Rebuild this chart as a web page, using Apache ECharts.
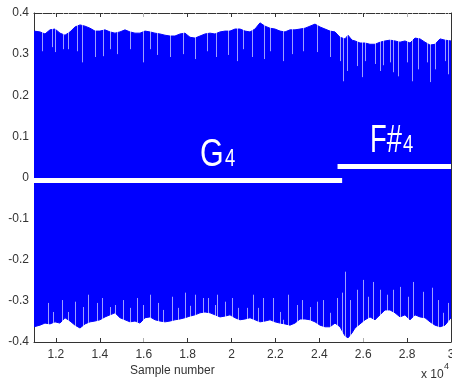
<!DOCTYPE html>
<html><head><meta charset="utf-8">
<script src="https://cdn.jsdelivr.net/npm/echarts@6/dist/echarts.min.js"></script>
<style>html,body{margin:0;padding:0;background:#fff}#c{width:452px;height:383px}</style>
</head><body><div id="c"></div>
<script>
// Envelope sample positions (sample number)
const sampleX = [11000,11273,11501,11729,11957,12185,12412,12640,12868,13096,13324,13552,13779,14007,14235,14463,14691,14918,15146,15374,15602,15830,16058,16285,16513,16741,16969,17197,17424,17652,17880,18108,18336,18564,18791,19019,19247,19475,19703,19930,20158,20386,20614,20842,21070,21297,21525,21753,21981,22209,22436,22664,22892,23120,23348,23576,23803,24031,24259,24487,24715,24942,25170,25307,25489,25626,25854,26082,26309,26537,26765,26993,27221,27448,27676,27904,28132,28360,28588,28815,29043,29271,29499,29727,30000];
const upperEnv = [0.356,0.354,0.349,0.359,0.361,0.351,0.346,0.354,0.366,0.371,0.368,0.363,0.356,0.356,0.359,0.354,0.351,0.354,0.359,0.354,0.351,0.351,0.356,0.354,0.351,0.349,0.346,0.344,0.344,0.349,0.351,0.341,0.339,0.344,0.349,0.351,0.349,0.354,0.356,0.356,0.361,0.361,0.356,0.354,0.361,0.376,0.368,0.363,0.361,0.356,0.354,0.359,0.359,0.361,0.363,0.368,0.373,0.366,0.361,0.356,0.354,0.341,0.337,0.346,0.334,0.332,0.327,0.327,0.324,0.324,0.329,0.332,0.334,0.332,0.329,0.332,0.327,0.339,0.337,0.329,0.322,0.324,0.337,0.334,0.332];
const lowerEnv = [-0.363,-0.359,-0.354,-0.356,-0.351,-0.354,-0.341,-0.349,-0.359,-0.366,-0.356,-0.351,-0.349,-0.346,-0.339,-0.334,-0.329,-0.341,-0.346,-0.351,-0.349,-0.354,-0.341,-0.339,-0.346,-0.349,-0.351,-0.349,-0.346,-0.344,-0.341,-0.337,-0.334,-0.329,-0.327,-0.329,-0.334,-0.339,-0.337,-0.334,-0.341,-0.346,-0.344,-0.341,-0.346,-0.351,-0.349,-0.346,-0.351,-0.354,-0.356,-0.359,-0.354,-0.344,-0.344,-0.346,-0.351,-0.359,-0.363,-0.363,-0.354,-0.363,-0.385,-0.390,-0.378,-0.366,-0.356,-0.346,-0.339,-0.346,-0.334,-0.322,-0.322,-0.329,-0.339,-0.334,-0.346,-0.334,-0.339,-0.341,-0.351,-0.359,-0.363,-0.359,-0.341];

// Individual low peaks inside the waveform
const topSpikeX = [11364,11820,11957,12321,12549,12959,13187,13779,14144,14463,14782,15374,15966,16285,16604,17196,17788,18335,18882,19292,19839,20249,20522,20932,21479,21752,22344,22754,23256,23894,24485,24941,25078,25260,25716,25944,26080,26536,26764,26900,27219,27356,27584,27994,28222,28495,28905,29042,29270,29726,29863];
const topSpikeTip = [0.307,0.317,0.305,0.312,0.312,0.307,0.280,0.293,0.295,0.312,0.300,0.312,0.280,0.312,0.298,0.293,0.300,0.288,0.307,0.293,0.298,0.283,0.312,0.293,0.288,0.307,0.283,0.300,0.307,0.305,0.293,0.283,0.234,0.259,0.271,0.244,0.283,0.276,0.259,0.273,0.280,0.256,0.246,0.280,0.234,0.263,0.280,0.232,0.263,0.283,0.251];
const botSpikeX = [11638,11866,12276,12549,12868,13232,13460,13870,14098,14463,14691,15055,15374,15693,15966,16285,16650,16878,17288,17561,17880,18108,18335,18700,18928,19247,19338,19702,20021,20294,20704,20977,21205,21433,21889,22208,22344,22572,22982,23210,23575,23894,24167,24485,24804,25032,25169,25397,25716,25989,26217,26445,26764,27083,27356,27675,28039,28267,28723,29133,29406,29634,29862];
const botSpikeTip = [-0.305,-0.327,-0.298,-0.327,-0.302,-0.315,-0.285,-0.305,-0.293,-0.315,-0.310,-0.298,-0.317,-0.293,-0.310,-0.285,-0.305,-0.322,-0.290,-0.317,-0.280,-0.312,-0.285,-0.293,-0.293,-0.310,-0.285,-0.302,-0.293,-0.317,-0.317,-0.285,-0.317,-0.293,-0.293,-0.327,-0.346,-0.285,-0.310,-0.298,-0.315,-0.302,-0.298,-0.329,-0.293,-0.280,-0.229,-0.298,-0.273,-0.249,-0.290,-0.254,-0.273,-0.285,-0.273,-0.266,-0.290,-0.254,-0.278,-0.268,-0.298,-0.329,-0.305];

// Note marker lines
const g4Line = [[11000,-0.007],[25040,-0.007]];
const fs4Line = [[24830,0.027],[30000,0.027]];
const noteMain = ['G','F#'];
const noteSub = ['4','4'];
const noteAnchor = [[18563,0.027],[26308,0.061]];

const xTicks = [12000,14000,16000,18000,20000,22000,24000,26000,28000,30000];
const yMin = -0.4, yMax = 0.4, yStep = 0.1;

const chart = echarts.init(document.getElementById('c'));
const axisCol = '#333';
const fontFam = 'Liberation Sans, Arial, sans-serif';
const xBase = {
  type:'value', min:11000, max:30000,
  axisLine:{show:true, onZero:false, lineStyle:{color:axisCol, width:1}},
  axisTick:{show:true, inside:true, length:4, customValues:xTicks, lineStyle:{color:axisCol}},
  splitLine:{show:false}
};
const yBase = {
  type:'value', min:yMin, max:yMax, interval:yStep,
  axisLine:{show:true, onZero:false, lineStyle:{color:axisCol, width:1}},
  axisTick:{show:true, inside:true, length:4, lineStyle:{color:axisCol}},
  splitLine:{show:false}
};
const subOffset = [25, 33];
const mainScale = [0.78, 0.7];
const mainSize = 39, subSize = 23;
chart.setOption({
  animation:false,
  grid:{left:34, right:1, top:13, bottom:41, outerBoundsMode:'none', containLabel:false},
  xAxis:[
    Object.assign({}, xBase, {position:'bottom', axisLabel:{customValues:xTicks, color:axisCol, fontSize:12, fontFamily:fontFam, margin:7, formatter:v=>String(v/10000)}}),
    Object.assign({}, xBase, {position:'top', axisLabel:{show:false}})
  ],
  yAxis:[
    Object.assign({}, yBase, {position:'left', axisLabel:{color:axisCol, fontSize:12, fontFamily:fontFam, margin:5, formatter:v=>String(+(+v).toFixed(1))}}),
    Object.assign({}, yBase, {position:'right', axisLabel:{show:false}})
  ],
  series:[
    {type:'line', data:sampleX.map((x,i)=>[x,upperEnv[i]]), symbol:'none', lineStyle:{color:'#0000ff', width:1}, areaStyle:{color:'#0000ff', opacity:1, origin:-0.05}, z:2},
    {type:'line', data:sampleX.map((x,i)=>[x,lowerEnv[i]]), symbol:'none', lineStyle:{color:'#0000ff', width:1}, areaStyle:{color:'#0000ff', opacity:1, origin:0.05}, z:2},
    {type:'custom', z:3, clip:true, encode:{x:0,y:1},
      data:topSpikeX.map((x,i)=>[x,topSpikeTip[i]]).concat(botSpikeX.map((x,i)=>[x,botSpikeTip[i]])),
      renderItem:(p,api)=>{
        const x=api.value(0), y=api.value(1);
        const a=api.coord([x,y]); const b=api.coord([x, y>0?yMax:yMin]);
        const px=Math.round(a[0])+0.5;
        return {type:'line', shape:{x1:px,y1:a[1],x2:px,y2:b[1]}, style:{stroke:'rgba(255,255,255,0.62)', lineWidth:1}};
      }},
    {type:'line', data:g4Line, symbol:'none', lineStyle:{color:'#fff', width:5, cap:'butt'}, z:4},
    {type:'line', data:fs4Line, symbol:'none', lineStyle:{color:'#fff', width:5, cap:'butt'}, z:4},
    {type:'custom', z:5, clip:false, encode:{x:0,y:1},
      data:noteAnchor,
      renderItem:(p,api)=>{
        const c=api.coord([api.value(0),api.value(1)]);
        const i=p.dataIndex;
        return {type:'group', children:[
          {type:'text', x:c[0], y:c[1]+mainSize*0.21, scaleX:mainScale[i], style:{text:noteMain[i], fill:'#fff', fontSize:mainSize, fontFamily:fontFam, textAlign:'left', verticalAlign:'bottom'}},
          {type:'text', x:c[0]+subOffset[i], y:c[1]+subSize*0.21, scaleX:0.8, style:{text:noteSub[i], fill:'#fff', fontSize:subSize, fontFamily:fontFam, textAlign:'left', verticalAlign:'bottom'}}
        ]};
      }}
  ],
  graphic:[
    {type:'text', left:130, top:365, style:{text:'Sample number', fill:axisCol, fontSize:12, fontFamily:fontFam}},
    {type:'text', left:421, top:369, style:{text:'x 10', fill:axisCol, fontSize:12, fontFamily:fontFam}},
    {type:'text', left:444, top:362, style:{text:'4', fill:axisCol, fontSize:9, fontFamily:fontFam}}
  ]
});
</script></body></html>
